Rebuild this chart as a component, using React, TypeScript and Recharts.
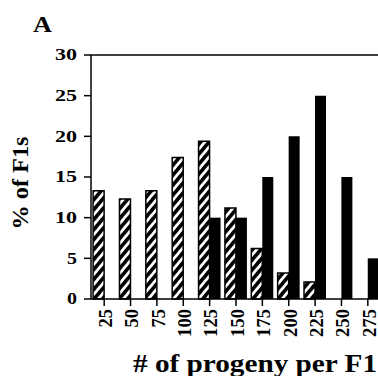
import { BarChart, Bar, XAxis, YAxis, ReferenceLine } from "recharts";

const categories = ["25", "50", "75", "100", "125", "150", "175", "200", "225", "250", "275"];
const hatchedValues = [13.3, 12.3, 13.3, 17.4, 19.4, 11.2, 6.2, 3.2, 2.1, 0, 0];
const solidValues = [0, 0, 0, 0, 10, 10, 15, 20, 25, 15, 5];
const yTicks = [0, 5, 10, 15, 20, 25, 30];

const data = categories.map((c, i) => ({ cat: c, hatched: hatchedValues[i], solid: solidValues[i] }));

const serif = "Liberation Serif, Times New Roman, serif";

function XTick(props: any) {
  const { x, y, payload } = props;
  const s = String(payload.value);
  return (
    <text
      x={x + 1}
      y={y}
      transform={`rotate(-90 ${x + 1} ${y})`}
      textAnchor="end"
      dy="0.36em"
      style={{ fontFamily: serif, fontWeight: 700, fontSize: 19 }}
      fill="#000"
      textLength={s.length * 9.3}
      lengthAdjust="spacingAndGlyphs"
    >
      {s}
    </text>
  );
}

function YTick(props: any) {
  const { x, y, payload } = props;
  const s = String(payload.value);
  return (
    <text
      x={x}
      y={y}
      textAnchor="end"
      dy="0.34em"
      style={{ fontFamily: serif, fontWeight: 700, fontSize: 16 }}
      fill="#000"
      textLength={s.length > 1 ? 22 : 10}
      lengthAdjust="spacingAndGlyphs"
    >
      {s}
    </text>
  );
}

export default function App() {
  return (
    <div style={{ position: "relative", width: 378, height: 376, overflow: "hidden", background: "#fff" }}>
      <style>{`body{margin:0;overflow:hidden}`}</style>
      <BarChart
        width={384}
        height={376}
        data={data}
        margin={{ top: 55, right: 3, left: 0, bottom: 0 }}
        barCategoryGap="8%"
        barGap={0}
      >
        <defs>
          <pattern id="hatch" patternUnits="userSpaceOnUse" width={6.4} height={6.4} patternTransform="rotate(40)">
            <rect width={6.4} height={6.4} fill="#fff" />
            <rect width={3.6} height={6.4} fill="#000" />
          </pattern>
        </defs>
        <XAxis
          dataKey="cat"
          height={77}
          interval={0}
          tickSize={7}
          tickMargin={3}
          tick={<XTick />}
          axisLine={{ stroke: "#000", strokeWidth: 1.5 }}
          tickLine={{ stroke: "#000", strokeWidth: 1.5 }}
        />
        <YAxis
          width={91}
          domain={[0, 30]}
          ticks={yTicks}
          tickSize={7}
          tickMargin={7}
          tick={<YTick />}
          axisLine={{ stroke: "#000", strokeWidth: 1.5 }}
          tickLine={{ stroke: "#000", strokeWidth: 1.5 }}
        />
        <ReferenceLine y={30} stroke="#000" strokeWidth={1.5} />
        <Bar dataKey="hatched" fill="url(#hatch)" stroke="#000" strokeWidth={1.5} isAnimationActive={false} />
        <Bar dataKey="solid" fill="#000" isAnimationActive={false} />
      </BarChart>
      <svg width={378} height={376} style={{ position: "absolute", left: 0, top: 0, pointerEvents: "none" }}>
        <text
          x={33}
          y={32}
          style={{ fontFamily: serif, fontWeight: 700, fontSize: 23 }}
          textLength={19}
          lengthAdjust="spacingAndGlyphs"
        >
          A
        </text>
        <text
          x={28}
          y={183}
          transform="rotate(-90 28 183)"
          textAnchor="middle"
          style={{ fontFamily: serif, fontWeight: 700, fontSize: 24 }}
          textLength={93}
          lengthAdjust="spacingAndGlyphs"
        >
          % of F1s
        </text>
        <text
          x={255}
          y={372}
          textAnchor="middle"
          style={{ fontFamily: serif, fontWeight: 700, fontSize: 25 }}
          textLength={244}
          lengthAdjust="spacingAndGlyphs"
        >
          # of progeny per F1
        </text>
      </svg>
    </div>
  );
}
